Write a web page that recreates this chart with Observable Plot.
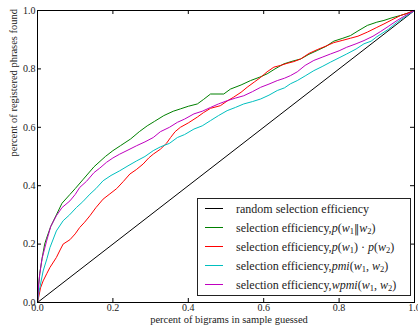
<!DOCTYPE html>
<html>
<head>
<meta charset="utf-8">
<script src="https://cdn.jsdelivr.net/npm/d3@7"></script>
<script src="https://cdn.jsdelivr.net/npm/@observablehq/plot@0.6"></script>
<style>
  html, body { margin: 0; padding: 0; background: #fff; }
  #chart { width: 418px; height: 328px; }
</style>
</head>
<body>
<div id="chart"></div>
<script>
// ---- data ----
const xTicks = [0, 0.2, 0.4, 0.6, 0.8, 1.0];
const yTicks = [0, 0.2, 0.4, 0.6, 0.8, 1.0];

const xRandom = [0, 1];
const yRandom = [0, 1];

const xGreen = [0,0.003,0.006,0.012,0.019,0.024,0.035,0.05,0.065,0.086,0.1,0.12,0.15,0.18,0.2,0.22,0.247,0.27,0.291,0.31,0.335,0.36,0.379,0.40,0.424,0.44,0.459,0.494,0.512,0.54,0.565,0.59,0.609,0.63,0.653,0.675,0.698,0.72,0.742,0.765,0.786,0.81,0.83,0.85,0.875,0.9,0.919,0.94,0.963,0.98,1.0];
const yGreen = [0,0.06,0.10,0.15,0.20,0.22,0.26,0.30,0.34,0.37,0.39,0.42,0.465,0.50,0.52,0.537,0.56,0.585,0.605,0.62,0.64,0.655,0.663,0.672,0.68,0.695,0.714,0.714,0.731,0.745,0.76,0.772,0.783,0.80,0.817,0.826,0.834,0.85,0.863,0.877,0.895,0.905,0.914,0.93,0.949,0.96,0.966,0.975,0.983,0.99,1.0];

const xRed = [0,0.002,0.008,0.015,0.025,0.033,0.05,0.06,0.068,0.086,0.1,0.112,0.125,0.139,0.155,0.174,0.19,0.21,0.228,0.245,0.262,0.28,0.295,0.307,0.326,0.342,0.353,0.365,0.379,0.4,0.424,0.44,0.459,0.485,0.503,0.52,0.54,0.556,0.575,0.592,0.609,0.627,0.645,0.662,0.68,0.698,0.72,0.742,0.765,0.786,0.81,0.83,0.85,0.875,0.9,0.919,0.94,0.963,0.98,1.0];
const yRed = [0,0.011,0.05,0.074,0.10,0.12,0.154,0.18,0.20,0.215,0.235,0.257,0.275,0.297,0.325,0.354,0.37,0.39,0.415,0.44,0.455,0.474,0.495,0.508,0.525,0.545,0.565,0.585,0.60,0.615,0.635,0.65,0.665,0.674,0.69,0.703,0.72,0.737,0.755,0.771,0.79,0.806,0.812,0.819,0.825,0.834,0.853,0.866,0.878,0.89,0.898,0.905,0.912,0.926,0.942,0.954,0.968,0.983,0.99,1.0];

const xCyan = [0,0.003,0.006,0.015,0.025,0.033,0.05,0.068,0.085,0.103,0.12,0.139,0.155,0.174,0.195,0.218,0.24,0.263,0.285,0.307,0.326,0.35,0.371,0.39,0.415,0.437,0.459,0.48,0.503,0.525,0.547,0.57,0.592,0.614,0.636,0.655,0.671,0.689,0.71,0.733,0.755,0.777,0.8,0.82,0.845,0.866,0.885,0.9,0.93,0.954,0.975,1.0];
const yCyan = [0,0.03,0.05,0.108,0.15,0.188,0.245,0.28,0.30,0.325,0.345,0.371,0.39,0.417,0.435,0.451,0.468,0.485,0.50,0.52,0.533,0.545,0.565,0.575,0.594,0.605,0.623,0.64,0.657,0.668,0.68,0.688,0.697,0.71,0.726,0.735,0.749,0.76,0.776,0.794,0.808,0.823,0.838,0.851,0.868,0.886,0.895,0.91,0.935,0.96,0.978,1.0];

const xMagenta = [0,0.003,0.006,0.012,0.024,0.035,0.05,0.065,0.086,0.1,0.112,0.13,0.15,0.165,0.183,0.2,0.218,0.24,0.263,0.285,0.307,0.326,0.35,0.371,0.39,0.415,0.437,0.459,0.48,0.503,0.525,0.547,0.57,0.592,0.614,0.636,0.655,0.671,0.689,0.71,0.733,0.755,0.777,0.8,0.82,0.845,0.866,0.89,0.91,0.93,0.954,0.975,1.0];
const yMagenta = [0,0.06,0.097,0.15,0.21,0.26,0.297,0.325,0.348,0.37,0.394,0.415,0.445,0.46,0.48,0.495,0.508,0.522,0.537,0.55,0.565,0.585,0.60,0.617,0.628,0.646,0.655,0.668,0.68,0.691,0.70,0.708,0.722,0.737,0.748,0.76,0.768,0.777,0.79,0.812,0.829,0.84,0.851,0.862,0.874,0.886,0.897,0.912,0.928,0.945,0.966,0.982,1.0];

const seriesNames = ["random", "p", "pp", "pmi", "wpmi"];
const seriesColors = ["#000000", "#008000", "#ff0000", "#00bfbf", "#bf00bf"];
const xLabel = "percent of bigrams in sample guessed";
const yLabel = "percent of registered phrases found";

// legend label segments: [text, style] ; style: "" normal, "i" italic, "s" subscript, "m" math symbol
const legendLabels = [
  [["random selection efficiency", ""]],
  [["selection efficiency,", ""], ["p", "i"], ["(", ""], ["w", "i"], ["1", "s"], ["\u2016", "m"], ["w", "i"], ["2", "s"], [")", ""]],
  [["selection efficiency,", ""], ["p", "i"], ["(", ""], ["w", "i"], ["1", "s"], [") \u00b7 ", ""], ["p", "i"], ["(", ""], ["w", "i"], ["2", "s"], [")", ""]],
  [["selection efficiency,", ""], ["pmi", "i"], ["(", ""], ["w", "i"], ["1", "s"], [", ", ""], ["w", "i"], ["2", "s"], [")", ""]],
  [["selection efficiency,", ""], ["wpmi", "i"], ["(", ""], ["w", "i"], ["1", "s"], [", ", ""], ["w", "i"], ["2", "s"], [")", ""]]
];

// ---- build table ----
function rows(name, xs, ys) { return xs.map((x, i) => ({series: name, x, y: ys[i]})); }
const data = [
  ...rows("random", xRandom, yRandom),
  ...rows("p", xGreen, yGreen),
  ...rows("pp", xRed, yRed),
  ...rows("pmi", xCyan, yCyan),
  ...rows("wpmi", xMagenta, yMagenta)
];

const W = 418, H = 328, mL = 37, mR = 4, mT = 10, mB = 26;
const pw = W - mL - mR, ph = H - mT - mB;
const tickLen = 4;
const fmt = d3.format(".1f");
const serif = "'Liberation Serif', 'DejaVu Serif', serif";

const chart = Plot.plot({
  width: W, height: H,
  marginLeft: mL, marginRight: mR, marginTop: mT, marginBottom: mB,
  style: {fontFamily: serif, fontSize: "10px", background: "#fff", color: "#222"},
  x: {domain: [0, 1]},
  y: {domain: [0, 1]},
  color: {domain: seriesNames, range: seriesColors},
  marks: [
    Plot.line(data, {x: "x", y: "y", z: "series", stroke: "series", strokeWidth: 1}),
    Plot.frame({stroke: "#000", strokeWidth: 1}),
    // inward ticks on all four sides
    Plot.tickX(xTicks, {x: d => d, insetTop: ph - tickLen, stroke: "#000"}),
    Plot.tickX(xTicks, {x: d => d, insetBottom: ph - tickLen, stroke: "#000"}),
    Plot.tickY(yTicks, {y: d => d, insetRight: pw - tickLen, stroke: "#000"}),
    Plot.tickY(yTicks, {y: d => d, insetLeft: pw - tickLen, stroke: "#000"}),
    Plot.axisX({ticks: xTicks, tickSize: 0, tickPadding: 1, tickFormat: fmt, label: null}),
    Plot.axisY({ticks: yTicks, tickSize: 0, tickPadding: 2, tickFormat: fmt, label: null}),
    Plot.text([xLabel], {text: d => d, frameAnchor: "bottom", dx: 3, dy: 20, fontSize: 10.5}),
    Plot.text([yLabel], {text: d => d, frameAnchor: "left", rotate: -90, dx: -23.5, fontSize: 10.5})
  ]
});

// ---- legend (lower right, inside the axes) ----
const svg = d3.select(chart);
const lg = svg.append("g")
  .attr("font-family", serif)
  .attr("font-size", 12)
  .attr("text-anchor", "start");
const boxX = 197.5, boxY = 198.5, boxW = 213, boxH = 97, rowH = 19, firstRow = 208.5;
lg.append("rect").attr("x", boxX).attr("y", boxY).attr("width", boxW).attr("height", boxH)
  .attr("fill", "#fff").attr("stroke", "#222").attr("stroke-width", 1);
legendLabels.forEach((segs, i) => {
  const yy = firstRow + i * rowH;
  lg.append("line").attr("x1", 205).attr("x2", 223).attr("y1", yy).attr("y2", yy)
    .attr("stroke", seriesColors[i]).attr("stroke-width", 1);
  const t = lg.append("text").attr("x", 236).attr("y", yy).attr("dy", "0.35em")
    .attr("fill", "#222").attr("text-anchor", "start");
  let sub = false;
  segs.forEach(([s, st]) => {
    const ts = t.append("tspan").text(s);
    if (st === "i") ts.attr("font-style", "italic");
    if (st === "m") ts.attr("font-family", "'DejaVu Serif', serif").attr("font-size", 10.5);
    if (st === "s") { ts.attr("font-size", 8.5).attr("dy", 2.5); sub = true; }
    else if (sub) { ts.attr("dy", -2.5); sub = false; }
  });
});

document.getElementById("chart").appendChild(chart);
</script>
</body>
</html>
